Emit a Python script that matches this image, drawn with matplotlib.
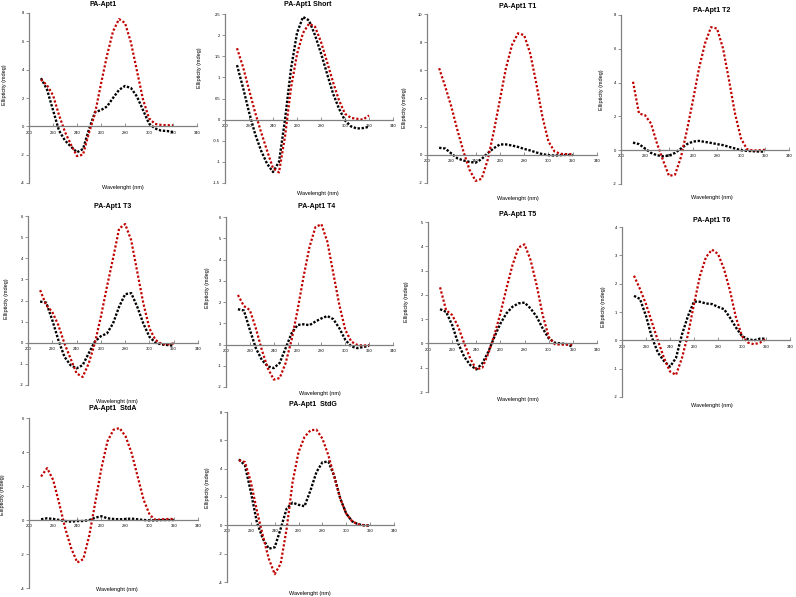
import numpy as np
import matplotlib
matplotlib.use('Agg')
import matplotlib.pyplot as plt
from matplotlib.ticker import FuncFormatter

plt.rcParams['font.family'] = ['Liberation Sans', 'DejaVu Sans']
plt.rcParams['axes.unicode_minus'] = False

# wavelength (nm), 5 nm steps
wl = [210, 215, 220, 225, 230, 235, 240, 245, 250, 255, 260, 265,
      270, 275, 280, 285, 290, 295, 300, 305, 310, 315, 320]

titles = ['PA-Apt1', 'PA-Apt1 Short', 'PA-Apt1 T1', 'PA-Apt1 T2',
          'PA-Apt1 T3', 'PA-Apt1 T4', 'PA-Apt1 T5', 'PA-Apt1 T6',
          'PA-Apt1  StdA', 'PA-Apt1  StdG']

# ellipticity (mdeg), red series
red_apt1 = [3.3, 2.9, 2.2, 0.8, -0.4, -1.3, -2.1, -2.0, -0.45, 0.9, 3.0, 5.0,
            6.7, 7.57, 7.3, 5.9, 3.9, 1.9, 0.57, 0.17, 0.1, 0.08, 0.07]
red_short = [1.69, 1.25, 0.71, 0.18, -0.29, -0.73, -1.15, -1.25, -0.4, 0.75, 1.55, 2.05,
             2.27, 2.2, 1.84, 1.37, 0.89, 0.46, 0.14, 0.04, 0.02, 0.0, 0.1]
red_t1 = [6.15, 4.85, 3.43, 1.77, 0.24, -1.06, -1.85, -1.7, -0.35, 1.65, 3.9, 6.15,
          7.8, 8.63, 8.5, 7.2, 5.08, 2.72, 0.95, 0.24, 0.07, 0.05, 0.05]
red_t2 = [4.05, 2.17, 2.07, 1.58, 0.4, -0.59, -1.52, -1.45, -0.4, 1.19, 2.96, 4.84,
          6.32, 7.28, 7.2, 6.03, 4.15, 2.17, 0.69, 0.06, -0.02, 0.0, 0.02]
red_t3 = [2.49, 1.78, 1.46, 0.83, -0.03, -0.74, -1.45, -1.62, -0.98, -0.03, 1.23, 2.65,
          3.98, 5.4, 5.62, 4.85, 3.35, 1.86, 0.68, 0.13, -0.06, -0.08, -0.03]
red_t4 = [2.33, 1.81, 1.62, 0.77, -0.25, -1.11, -1.65, -1.58, -0.87, 0.22, 1.62, 3.19,
          4.59, 5.53, 5.66, 4.83, 3.34, 1.86, 0.69, 0.14, -0.02, -0.05, -0.03]
red_t5 = [2.31, 1.37, 1.17, 0.69, 0.0, -0.62, -1.07, -1.0, -0.41, 0.34, 1.24, 2.27,
          3.23, 3.95, 4.08, 3.43, 2.4, 1.17, 0.27, -0.03, -0.05, -0.05, -0.04]
red_t6 = [2.28, 1.81, 1.28, 0.63, -0.02, -0.62, -1.1, -1.22, -0.62, 0.21, 1.28, 2.28,
          2.94, 3.2, 3.05, 2.52, 1.75, 0.8, 0.15, -0.08, -0.14, -0.08, 0.04]
red_stda = [2.56, 3.05, 2.36, 0.98, -0.49, -1.67, -2.5, -2.3, -0.89, 1.08, 3.05, 4.63,
            5.31, 5.41, 4.92, 3.94, 2.56, 1.18, 0.3, 0.0, 0.04, 0.06, 0.06]
red_stdg = [4.59, 4.47, 3.06, 1.06, -0.71, -2.35, -3.45, -2.7, -0.24, 3.06, 5.18, 6.24,
            6.71, 6.75, 6.12, 4.94, 3.41, 1.88, 0.82, 0.28, 0.07, 0.0, -0.02]

# ellipticity (mdeg), black series
blk_apt1 = [3.4, 2.6, 1.15, -0.3, -1.0, -1.44, -1.83, -1.6, -0.2, 1.0, 1.15, 1.4,
            2.0, 2.57, 2.85, 2.7, 2.1, 1.15, 0.2, -0.15, -0.3, -0.33, -0.4]
blk_short = [1.29, 0.76, 0.18, -0.33, -0.73, -1.04, -1.24, -1.0, 0.0, 1.2, 2.05, 2.43,
             2.35, 2.0, 1.57, 1.09, 0.62, 0.26, -0.02, -0.16, -0.21, -0.2, -0.17]
blk_t1 = [0.5, 0.45, 0.1, -0.25, -0.4, -0.5, -0.56, -0.3, 0.12, 0.47, 0.74, 0.74,
          0.66, 0.56, 0.42, 0.31, 0.17, 0.05, -0.02, -0.05, -0.02, 0.0, -0.02]
blk_t2 = [0.45, 0.36, 0.1, -0.16, -0.3, -0.36, -0.32, -0.16, 0.1, 0.36, 0.51, 0.55,
          0.49, 0.43, 0.36, 0.3, 0.2, 0.1, 0.0, -0.04, -0.06, -0.08, -0.08]
blk_t3 = [1.95, 1.9, 1.07, 0.13, -0.66, -1.06, -1.21, -1.06, -0.5, 0.05, 0.31, 0.44,
          0.91, 1.7, 2.3, 2.35, 1.7, 0.91, 0.28, 0.0, -0.08, -0.11, -0.14]
blk_t4 = [1.66, 1.6, 0.69, -0.17, -0.72, -1.03, -1.11, -0.87, -0.17, 0.53, 0.92, 0.95,
          0.91, 1.08, 1.23, 1.34, 1.19, 0.77, 0.22, -0.09, -0.17, -0.12, -0.06]
blk_t5 = [1.41, 1.3, 0.76, 0.0, -0.55, -0.89, -1.07, -0.82, -0.34, 0.27, 0.82, 1.24,
          1.51, 1.65, 1.68, 1.44, 1.1, 0.62, 0.21, 0.03, 0.0, -0.03, -0.14]
blk_t6 = [1.57, 1.46, 0.86, 0.09, -0.44, -0.73, -0.93, -0.62, 0.21, 0.86, 1.37, 1.36,
          1.3, 1.28, 1.18, 1.1, 0.8, 0.45, 0.15, 0.04, 0.0, 0.06, 0.06]
blk_stda = [0.04, 0.1, 0.06, 0.0, -0.06, -0.1, -0.06, -0.06, 0.0, 0.14, 0.22, 0.1,
            0.06, 0.04, 0.06, 0.08, 0.04, 0.0, -0.02, -0.02, 0.0, 0.0, 0.0]
blk_stdg = [4.66, 4.24, 2.35, 0.24, -0.94, -1.65, -1.55, -0.24, 1.18, 1.6, 1.45, 1.35,
            2.47, 3.76, 4.45, 4.5, 3.45, 1.88, 0.82, 0.28, 0.07, 0.0, -0.02]

red = [red_apt1, red_short, red_t1, red_t2, red_t3, red_t4, red_t5, red_t6, red_stda, red_stdg]
blk = [blk_apt1, blk_short, blk_t1, blk_t2, blk_t3, blk_t4, blk_t5, blk_t6, blk_stda, blk_stdg]

# y axis ranges and tick steps
ylims = [(-4, 8, 2), (-1.5, 2.5, 0.5), (-2, 10, 2), (-2, 8, 2), (-2, 6, 1),
         (-2, 6, 1), (-2, 5, 1), (-2, 4, 1), (-4, 6, 2), (-4, 8, 2)]

# layout in pixels: axes box (x0, y_top, x1, y_bottom), title, xlabel, ylabel positions
W, H = 796, 597
boxes = [(29, 13, 197, 183), (225, 14, 393, 183), (427, 14, 597, 183), (621, 15, 789, 184),
         (28, 216, 198, 385), (226, 217, 393, 387), (428, 222, 597, 392), (622, 227, 790, 397),
         (29, 418, 198, 588), (227, 412, 394, 582)]
title_pos = [(103, 5), (308, 5), (518, 6), (712, 10), (113, 206), (317, 206),
             (518, 215), (712, 221), (113, 409), (313, 404)]
xlab_pos = [(123, 188), (318, 193), (518, 199), (712, 197), (117, 401), (320, 394),
            (518, 399), (712, 406), (117, 589), (310, 594)]
ylab_pos = [(5, 85), (199, 68), (405, 108), (601, 90), (7, 299), (207, 288),
            (406, 302), (603, 307), (3, 495), (207, 488)]

axis_col = '#808080'
fig = plt.figure(figsize=(7.96, 5.97), dpi=100)

for i in range(len(titles)):
    x0, yt, x1, yb = boxes[i]
    ax = fig.add_axes([x0 / W, 1 - yb / H, (x1 - x0) / W, (yb - yt) / H])
    ax.patch.set_alpha(0)
    ax.plot(wl, blk[i], color='black', linestyle=(0, (1, 0.7)), linewidth=1.7)
    ax.plot(wl, red[i], color='#c00000', linestyle=(0, (1, 0.9)), linewidth=1.6)
    lo, hi, st = ylims[i]
    ax.set_xlim(200, 340)
    ax.set_ylim(lo, hi)
    ax.set_xticks(range(200, 341, 20))
    ax.set_yticks(np.arange(lo, hi + st / 2, st))
    ax.yaxis.set_major_formatter(FuncFormatter(lambda v, p: '%g' % round(v, 2)))
    for s in ['top', 'right']:
        ax.spines[s].set_visible(False)
    ax.spines['bottom'].set_position(('data', 0))
    for s in ['left', 'bottom']:
        ax.spines[s].set_color(axis_col)
        ax.spines[s].set_linewidth(0.9)
    ax.tick_params(axis='both', labelsize=3, length=2, width=0.6, color=axis_col, pad=1.5)
    ax.tick_params(axis='x', direction='in', pad=3)

    fig.text(title_pos[i][0] / W, 1 - title_pos[i][1] / H, titles[i],
             ha='center', va='center', fontsize=5, fontweight='bold')
    fig.text(xlab_pos[i][0] / W, 1 - xlab_pos[i][1] / H, 'Wavelenght (nm)',
             ha='center', va='center', fontsize=4)
    fig.text(ylab_pos[i][0] / W, 1 - ylab_pos[i][1] / H, 'Ellipticity (mdeg)',
             ha='center', va='center', fontsize=4, rotation=90)

fig.savefig('out.png', dpi=100)
